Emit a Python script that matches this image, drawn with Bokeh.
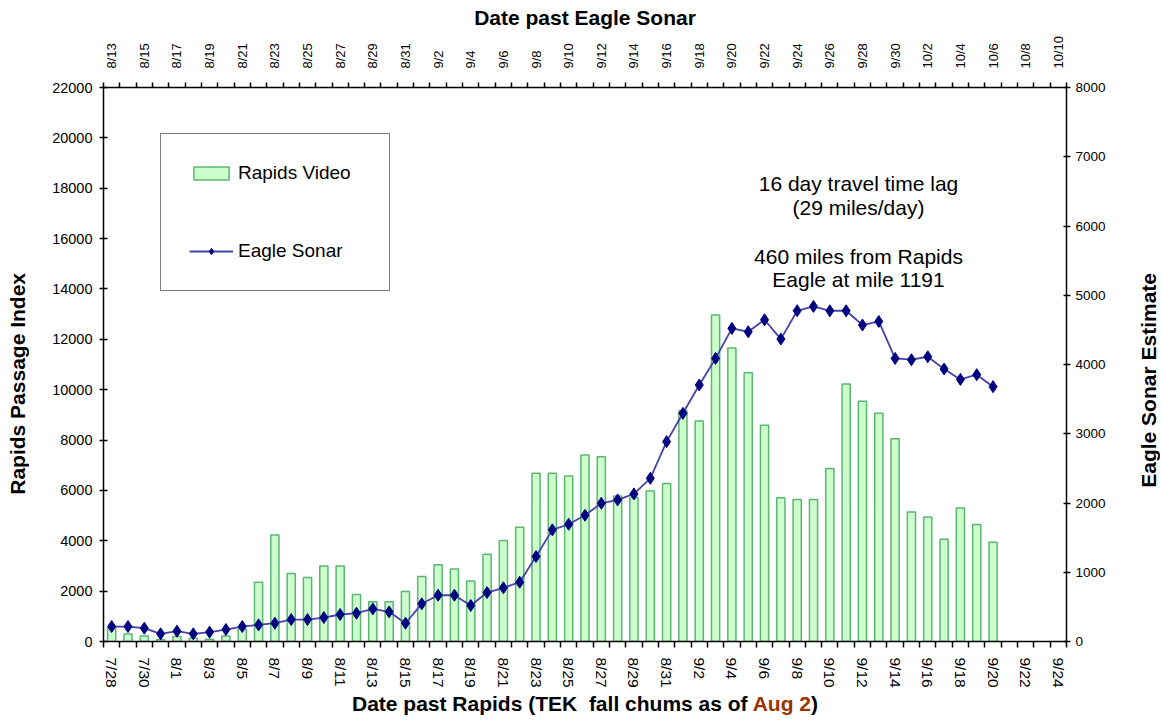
import math
from bokeh.plotting import figure
from bokeh.layouts import column, row
from bokeh.models import (LinearAxis, Range1d, FixedTicker, Legend, LegendItem, Label, Div)
from bokeh.embed import file_html
from bokeh.resources import INLINE

# ---------------- data ----------------
rapids_dates = ["7/28", "7/29", "7/30", "7/31",
                "8/1", "8/2", "8/3", "8/4", "8/5", "8/6", "8/7", "8/8", "8/9", "8/10",
                "8/11", "8/12", "8/13", "8/14", "8/15", "8/16", "8/17", "8/18", "8/19", "8/20",
                "8/21", "8/22", "8/23", "8/24", "8/25", "8/26", "8/27", "8/28", "8/29", "8/30", "8/31",
                "9/1", "9/2", "9/3", "9/4", "9/5", "9/6", "9/7", "9/8", "9/9", "9/10",
                "9/11", "9/12", "9/13", "9/14", "9/15", "9/16", "9/17", "9/18", "9/19", "9/20",
                "9/21", "9/22", "9/23", "9/24"]

eagle_dates = ["8/13", "8/14", "8/15", "8/16", "8/17", "8/18", "8/19", "8/20",
               "8/21", "8/22", "8/23", "8/24", "8/25", "8/26", "8/27", "8/28", "8/29", "8/30", "8/31",
               "9/1", "9/2", "9/3", "9/4", "9/5", "9/6", "9/7", "9/8", "9/9", "9/10",
               "9/11", "9/12", "9/13", "9/14", "9/15", "9/16", "9/17", "9/18", "9/19", "9/20",
               "9/21", "9/22", "9/23", "9/24", "9/25", "9/26", "9/27", "9/28", "9/29", "9/30",
               "10/1", "10/2", "10/3", "10/4", "10/5", "10/6", "10/7", "10/8", "10/9", "10/10"]

# Rapids Video passage index (left axis), 7/28 .. 9/20
rapids_video = [550, 300, 220, 80, 200, 130, 90, 220, 500, 2350,
                4230, 2700, 2540, 3000, 3000, 1870, 1580, 1580, 1990, 2580,
                3050, 2880, 2400, 3460, 4010, 4540, 6680, 6680, 6570, 7410,
                7340, 5780, 5720, 5980, 6270, 9160, 8760, 12970, 11660, 10670,
                8590, 5710, 5640, 5640, 6870, 10230, 9540, 9060, 8050, 5140,
                4940, 4060, 5300, 4650, 3940]

# Eagle Sonar estimate (right axis), same days shifted by 16 day lag
eagle_sonar = [216, 216, 192, 111, 149, 111, 135, 173, 216, 240,
               264, 317, 317, 346, 390, 409, 471, 428, 264, 544,
               668, 668, 520, 707, 775, 856, 1227, 1612, 1693, 1823,
               1996, 2045, 2131, 2357, 2886, 3295, 3704, 4088, 4521, 4473,
               4646, 4367, 4776, 4839, 4776, 4776, 4570, 4622, 4088, 4069,
               4112, 3935, 3785, 3853, 3680]

left_ticks = [0, 2000, 4000, 6000, 8000, 10000, 12000, 14000, 16000, 18000, 20000, 22000]
right_ticks = [0, 1000, 2000, 3000, 4000, 5000, 6000, 7000, 8000]

notes = ["16 day travel time lag", "(29 miles/day)", "460 miles from Rapids", "Eagle at mile 1191"]

# ---------------- layout sizes ----------------
FONT = "Liberation Sans"
LEFT_W = 36      # strip for the left title
RIGHT_W = 26     # strip for the right title
PLOT_W = 1162 - LEFT_W - RIGHT_W
PLOT_H = 692

n_cat = len(rapids_dates)
x_idx = list(range(len(rapids_video)))

p = figure(width=PLOT_W, height=PLOT_H, output_backend="svg", toolbar_location=None,
           x_range=Range1d(-0.5, n_cat - 0.5), y_range=Range1d(0, 22000),
           min_border_left=103 - LEFT_W, min_border_right=PLOT_W - (1066 - LEFT_W),
           min_border_top=87, min_border_bottom=PLOT_H - 641,
           x_axis_location=None, y_axis_location=None)
p.extra_y_ranges = {"sonar": Range1d(0, 8000)}
p.outline_line_color = None
p.xgrid.visible = False
p.ygrid.visible = False
p.background_fill_color = "white"
p.margin = (0, 0, 0, 0)

major = list(range(0, n_cat, 2))
minor = [i - 0.5 for i in range(n_cat + 1)]

def style_axis(ax, size):
    ax.axis_line_color = "black"
    ax.axis_line_width = 1.5
    ax.major_tick_line_color = "black"
    ax.major_tick_line_width = 1.5
    ax.minor_tick_line_color = "black"
    ax.minor_tick_line_width = 1.5
    ax.major_label_text_font = FONT
    ax.major_label_text_font_size = size
    ax.major_label_text_color = "black"
    ax.axis_label_text_font = FONT
    ax.axis_label_text_font_size = "21px"
    ax.axis_label_text_font_style = "bold"
    ax.axis_label_text_color = "black"

bottom = LinearAxis(ticker=FixedTicker(ticks=major, minor_ticks=minor),
                    major_label_overrides={i: rapids_dates[i] for i in major})
style_axis(bottom, "15.5px")
bottom.major_label_orientation = "vertical"
bottom.major_tick_out = 0
bottom.major_tick_in = 0
bottom.minor_tick_out = 6
bottom.minor_tick_in = 0
bottom.major_label_standoff = 10
p.add_layout(bottom, "below")

top = LinearAxis(ticker=FixedTicker(ticks=major, minor_ticks=minor),
                 major_label_overrides={i: eagle_dates[i] for i in major},
                 axis_label="Date past Eagle Sonar")
style_axis(top, "13px")
top.major_label_orientation = "vertical"
top.major_tick_out = 0
top.major_tick_in = 0
top.minor_tick_out = 5
top.minor_tick_in = 0
top.major_label_standoff = 14
top.axis_label_standoff = 4
p.add_layout(top, "above")

left = LinearAxis(ticker=FixedTicker(ticks=left_ticks, minor_ticks=[]))
style_axis(left, "14.5px")
left.major_tick_in = 4
left.major_tick_out = 4
left.major_label_standoff = 7
p.add_layout(left, "left")

right = LinearAxis(y_range_name="sonar", ticker=FixedTicker(ticks=right_ticks, minor_ticks=[]))
style_axis(right, "13.5px")
right.major_tick_in = 3
right.major_tick_out = 4
right.major_label_standoff = 5
p.add_layout(right, "right")

# ---------------- glyphs ----------------
bars = p.vbar(x=x_idx, top=rapids_video, width=0.5, bottom=0,
              fill_color="#CCFFCC", line_color="#5DB574", line_width=1.5)
ln = p.line(x=x_idx, y=eagle_sonar, y_range_name="sonar",
            line_color="#4343A8", line_width=1.8)
mk = p.scatter(x=x_idx, y=eagle_sonar, y_range_name="sonar", marker="diamond",
               size=12, fill_color="#000080", line_color="#000080")

legend = Legend(items=[LegendItem(label="Rapids Video", renderers=[bars]),
                       LegendItem(label="Eagle Sonar", renderers=[ln, mk])],
                location=(57, 350), orientation="vertical",
                label_text_font=FONT, label_text_font_size="19px", label_text_color="black",
                padding=28, spacing=56, label_height=22, glyph_height=16,
                glyph_width=44, label_standoff=5, label_width=123,
                border_line_color="black", border_line_width=1.5,
                background_fill_color="white", background_fill_alpha=1.0)
p.add_layout(legend, "center")

# ---------------- notes ----------------
note_y = [458, 434, 385, 362]
for txt, yy in zip(notes, note_y):
    p.add_layout(Label(x=755, y=yy, x_units="screen", y_units="screen", text=txt,
                       text_font=FONT, text_font_size="21px", text_align="center",
                       text_baseline="alphabetic", text_color="black"))

# ---------------- titles outside the canvas ----------------
TITLE_CSS = ("font-family:'Liberation Sans',Arial,sans-serif;font-size:21px;"
             "font-weight:bold;color:black;white-space:pre;")

def side_title(txt, w, center_y):
    pad = 2 * center_y - PLOT_H
    html = ('<div style="box-sizing:border-box;width:%dpx;height:%dpx;padding-top:%dpx;'
            'display:flex;align-items:center;justify-content:center;">'
            '<div style="%swriting-mode:vertical-rl;transform:rotate(180deg);line-height:24px;">'
            '%s</div></div>') % (w, PLOT_H, pad, TITLE_CSS, txt)
    return Div(text=html, width=w, height=PLOT_H, margin=(0, 0, 0, 0))

left_div = side_title("Rapids Passage Index", LEFT_W, 384)
right_div = side_title("Eagle Sonar Estimate", RIGHT_W, 380)

bottom_div = Div(
    text=('<div style="%sline-height:24px;padding-left:%dpx;">'
          'Date past Rapids (TEK  fall chums as of '
          '<span style="color:#993300;">Aug 2</span>)</div>') % (TITLE_CSS, 352 - LEFT_W),
    width=PLOT_W, height=29, margin=(0, 0, 0, 0))

layout = row(left_div, column(p, bottom_div, spacing=0), right_div, spacing=0)
open("out.html", "w").write(file_html(layout, INLINE))
